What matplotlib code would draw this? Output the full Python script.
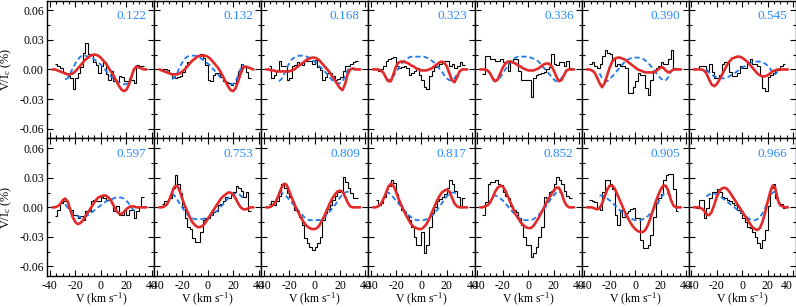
import matplotlib
matplotlib.use("Agg")
import matplotlib.pyplot as plt
from matplotlib.ticker import MultipleLocator, FormatStrFormatter

plt.rcParams['font.family'] = ['Liberation Serif', 'DejaVu Serif']
plt.rcParams['mathtext.fontset'] = 'custom'
plt.rcParams['mathtext.rm'] = 'Liberation Serif'
plt.rcParams['mathtext.it'] = 'Liberation Serif:italic'
plt.rcParams['axes.unicode_minus'] = False

phases = ['0.122', '0.132', '0.168', '0.323', '0.336', '0.390', '0.545',
          '0.597', '0.753', '0.809', '0.817', '0.852', '0.905', '0.966']

# velocity bin edges of the observed profiles (km/s)
v_edges = [-36, -34, -32, -30, -28, -26, -24, -22, -20, -18, -16, -14, -12, -10,
           -8, -6, -4, -2, 0, 2, 4, 6, 8, 10, 12, 14, 16, 18, 20, 22, 24, 26,
           28, 30, 32, 34]
# velocity grid of the model curves
v_red = [-38, -36, -34, -32, -30, -28, -26, -24, -22, -20, -18, -16, -14, -12,
         -10, -8, -6, -4, -2, 0, 2, 4, 6, 8, 10, 12, 14, 16, 18, 20, 22, 24,
         26, 28, 30, 32, 34, 36]
v_blue = [-28, -26, -24, -22, -20, -18, -16, -14, -12, -10, -8, -6, -4, -2, 0,
          2, 4, 6, 8, 10, 12, 14, 16, 18, 20, 22, 24, 26, 28]

# observed Stokes V/Ic (%)
obs_0122 = [0.006, 0.004, 0.001, -0.003, -0.005, -0.007, -0.009, -0.020, -0.009, -0.004,
            0.002, 0.017, 0.027, 0.016, 0.015, 0.008, 0.005, -0.004, 0.003, 0.008,
            -0.005, -0.011, -0.002, -0.012, -0.012, -0.007, -0.008, -0.012, -0.012, -0.009,
            -0.011, -0.014, 0.005, 0.003, 0.004]
obs_0132 = [0.000, 0.000, -0.001, -0.004, -0.008, -0.009, -0.008, -0.007, -0.003, 0.003,
            0.008, 0.009, 0.011, 0.013, 0.015, 0.016, 0.012, 0.005, -0.011, -0.012,
            -0.006, -0.004, -0.004, -0.008, -0.012, -0.013, -0.014, -0.016, -0.014, -0.010,
            -0.002, 0.006, 0.003, -0.003, -0.009]
obs_0168 = [0.003, -0.009, -0.006, -0.002, 0.009, 0.003, 0.003, -0.011, -0.009, 0.003,
            0.005, 0.008, 0.006, 0.005, 0.009, 0.009, 0.009, 0.006, 0.010, 0.002,
            -0.001, -0.011, -0.008, -0.004, -0.004, -0.007, -0.011, -0.010, -0.008, -0.002,
            0.003, 0.004, 0.006, 0.008, 0.009]
obs_0323 = [0.000, -0.002, 0.000, 0.003, 0.009, 0.011, 0.012, 0.013, 0.004, 0.001,
            0.002, 0.003, 0.001, -0.006, -0.004, -0.002, 0.001, -0.006, -0.011, -0.018,
            -0.020, -0.007, -0.002, 0.002, 0.003, 0.006, 0.008, 0.009, 0.009, 0.003,
            0.006, 0.001, 0.004, 0.008, 0.005]
obs_0336 = [-0.005, 0.014, 0.014, 0.011, 0.011, 0.009, 0.009, 0.011, 0.008, 0.008,
            -0.002, 0.009, 0.011, 0.011, -0.002, -0.011, -0.011, -0.011, -0.011, -0.028,
            -0.009, -0.006, -0.005, -0.004, -0.003, 0.000, 0.002, 0.016, 0.006, 0.005,
            0.008, 0.008, 0.003, 0.009, 0.001]
obs_0390 = [0.006, 0.008, 0.004, 0.001, 0.006, 0.014, 0.020, 0.017, 0.016, 0.011,
            0.004, 0.006, 0.004, 0.003, 0.001, -0.024, -0.024, -0.018, -0.012, -0.004,
            -0.006, -0.006, -0.019, -0.026, -0.011, -0.003, 0.001, 0.004, 0.008, 0.006,
            0.006, 0.011, 0.020, 0.001, 0.000]
obs_0545 = [0.000, 0.003, 0.004, 0.004, -0.002, 0.006, -0.003, -0.009, -0.009, -0.006,
            0.006, 0.008, 0.008, -0.003, -0.007, -0.007, -0.004, 0.003, 0.001, 0.001,
            0.008, 0.011, 0.006, 0.006, 0.003, -0.006, -0.019, -0.022, -0.008, -0.006,
            -0.004, -0.001, -0.001, 0.003, 0.006]
obs_0597 = [-0.009, -0.003, 0.004, 0.006, 0.006, -0.001, -0.003, -0.008, -0.008, -0.011,
            -0.009, -0.013, -0.004, -0.004, 0.006, 0.007, 0.006, 0.006, 0.011, 0.009,
            0.007, 0.007, 0.004, -0.004, 0.001, -0.008, -0.008, -0.003, -0.008, -0.003,
            -0.003, -0.011, -0.004, 0.000, 0.011]
obs_0753 = [0.003, 0.006, 0.006, 0.010, 0.020, 0.033, 0.024, 0.015, 0.000, -0.011,
            -0.020, -0.022, -0.031, -0.035, -0.035, -0.025, -0.013, -0.011, -0.011, -0.008,
            -0.005, -0.004, 0.002, 0.003, 0.006, 0.011, 0.010, 0.013, 0.016, 0.022,
            0.020, 0.017, 0.011, 0.016, -0.004]
obs_0809 = [0.003, 0.006, 0.002, 0.006, 0.012, 0.024, 0.020, 0.015, 0.011, 0.004,
            -0.003, -0.004, -0.010, -0.018, -0.031, -0.036, -0.040, -0.043, -0.040, -0.036,
            -0.030, -0.013, -0.006, -0.002, 0.002, 0.007, 0.012, 0.016, 0.017, 0.031,
            0.026, 0.020, 0.015, 0.009, 0.009]
obs_0817 = [0.007, 0.002, 0.004, 0.011, 0.019, 0.022, 0.028, 0.025, 0.014, 0.004,
            -0.003, -0.005, -0.009, -0.013, -0.020, -0.030, -0.038, -0.038, -0.025, -0.046,
            -0.038, -0.020, -0.006, 0.000, 0.006, 0.008, 0.011, 0.014, 0.020, 0.028,
            0.024, 0.017, 0.011, 0.000, 0.009]
obs_0852 = [-0.008, 0.005, 0.024, 0.026, 0.026, 0.028, 0.024, 0.023, 0.016, 0.012,
            0.009, 0.001, -0.003, -0.005, -0.011, -0.018, -0.030, -0.038, -0.038, -0.050,
            -0.046, -0.040, -0.030, -0.020, 0.011, 0.009, 0.016, 0.017, 0.024, 0.031,
            0.028, 0.024, 0.017, 0.012, 0.009]
obs_0905 = [0.007, 0.006, 0.005, -0.001, -0.003, 0.016, 0.028, 0.028, 0.024, 0.019,
            -0.008, -0.018, -0.003, -0.010, -0.006, -0.004, -0.002, -0.001, -0.011, -0.011,
            -0.033, -0.041, -0.041, -0.038, -0.028, -0.010, 0.004, 0.010, 0.014, 0.028,
            0.033, 0.034, 0.034, 0.019, -0.004]
obs_0966 = [-0.001, 0.007, 0.007, -0.011, -0.001, 0.009, 0.016, 0.016, 0.019, 0.016,
            0.011, 0.010, 0.007, 0.006, 0.004, 0.002, -0.003, -0.006, -0.011, -0.015,
            -0.020, -0.021, -0.025, -0.030, -0.036, -0.041, -0.033, -0.023, 0.001, 0.020,
            0.024, 0.010, 0.004, 0.003, -0.001]

# model 1 (red solid)
red_0122 = [0, 0, -0.001, -0.002, -0.003, -0.004, -0.005, -0.005, -0.004, -0.002,
            0.001, 0.004, 0.007, 0.010, 0.012, 0.014, 0.015, 0.015, 0.014, 0.012,
            0.009, 0.006, 0.002, -0.002, -0.006, -0.011, -0.016, -0.020, -0.022, -0.021,
            -0.016, -0.008, 0.000, 0.003, 0.002, 0.001, 0.000, 0.000]
red_0132 = [0, -0.001, -0.002, -0.003, -0.004, -0.005, -0.005, -0.005, -0.004, -0.002,
            0.000, 0.003, 0.006, 0.009, 0.011, 0.013, 0.014, 0.014, 0.014, 0.013,
            0.011, 0.008, 0.005, 0.002, -0.002, -0.007, -0.012, -0.017, -0.021, -0.022,
            -0.019, -0.012, -0.004, 0.002, 0.003, 0.002, 0.001, 0.0]
red_0168 = [0, 0, -0.001, -0.001, -0.002, -0.002, -0.002, -0.002, -0.002, -0.002,
            -0.001, 0.000, 0.002, 0.004, 0.006, 0.008, 0.010, 0.011, 0.012, 0.012,
            0.011, 0.009, 0.006, 0.003, 0.000, -0.003, -0.007, -0.011, -0.015, -0.019,
            -0.021, -0.015, -0.005, 0.000, 0.001, 0.000, 0, 0]
red_0323 = [0, 0, 0, -0.001, -0.003, -0.008, -0.012, -0.012, -0.005, 0.003,
            0.007, 0.008, 0.008, 0.007, 0.006, 0.004, 0.003, 0.001, 0.000, -0.001,
            -0.001, -0.001, 0.000, 0.001, 0.003, 0.005, 0.007, 0.008, 0.007, 0.003,
            -0.004, -0.011, -0.013, -0.008, -0.002, 0.000, 0, 0]
red_0336 = [0, 0, 0, -0.001, -0.004, -0.009, -0.012, -0.010, -0.004, 0.002,
            0.006, 0.008, 0.008, 0.007, 0.006, 0.004, 0.003, 0.001, 0.000, -0.001,
            -0.001, -0.001, 0.000, 0.001, 0.003, 0.005, 0.006, 0.006, 0.004, -0.001,
            -0.007, -0.012, -0.011, -0.006, -0.001, 0.000, 0, 0]
red_0390 = [0, 0, -0.001, -0.003, -0.008, -0.014, -0.018, -0.014, -0.006, 0.002,
            0.008, 0.011, 0.012, 0.012, 0.011, 0.010, 0.008, 0.006, 0.004, 0.002,
            0.000, -0.001, -0.002, -0.003, -0.003, -0.003, -0.003, -0.002, 0.000, 0.002,
            0.002, -0.001, -0.003, -0.002, 0.000, 0.000, 0, 0]
red_0545 = [0, 0, 0, 0, -0.001, -0.004, -0.010, -0.015, -0.017, -0.015,
            -0.011, -0.006, -0.001, 0.004, 0.008, 0.011, 0.012, 0.013, 0.013, 0.012,
            0.010, 0.008, 0.005, 0.002, -0.001, -0.004, -0.006, -0.007, -0.007, -0.006,
            -0.004, -0.002, -0.001, 0.000, 0.000, 0.000, 0, 0]
red_0597 = [0, 0, 0.001, 0.003, 0.007, 0.009, 0.006, -0.002, -0.010, -0.015,
            -0.017, -0.016, -0.013, -0.009, -0.005, -0.001, 0.003, 0.007, 0.010, 0.011,
            0.012, 0.012, 0.010, 0.007, 0.002, -0.003, -0.006, -0.007, -0.005, -0.002,
            0.000, 0.001, 0.001, 0.000, 0, 0, 0, 0]
red_0753 = [0, 0, 0.001, 0.003, 0.008, 0.015, 0.021, 0.022, 0.017, 0.009,
            0.002, -0.004, -0.010, -0.015, -0.018, -0.020, -0.020, -0.019, -0.016, -0.012,
            -0.008, -0.004, 0.000, 0.004, 0.008, 0.011, 0.013, 0.015, 0.015, 0.013,
            0.009, 0.004, 0.000, -0.002, -0.002, -0.001, 0.000, 0]
red_0809 = [0, 0, 0.001, 0.003, 0.007, 0.013, 0.020, 0.024, 0.023, 0.017,
            0.010, 0.004, -0.002, -0.007, -0.012, -0.016, -0.019, -0.021, -0.022, -0.022,
            -0.021, -0.018, -0.013, -0.008, -0.002, 0.004, 0.009, 0.013, 0.016, 0.017,
            0.016, 0.011, 0.005, 0.001, 0.000, 0, 0, 0]
red_0817 = [0, 0, 0.001, 0.003, 0.008, 0.014, 0.021, 0.024, 0.022, 0.016,
            0.009, 0.003, -0.003, -0.008, -0.013, -0.017, -0.020, -0.021, -0.022, -0.022,
            -0.020, -0.017, -0.012, -0.006, 0.000, 0.006, 0.011, 0.015, 0.017, 0.018,
            0.016, 0.010, 0.004, 0.001, 0.000, 0, 0, 0]
red_0852 = [0, 0, 0.001, 0.002, 0.005, 0.010, 0.016, 0.020, 0.022, 0.021,
            0.017, 0.011, 0.005, -0.001, -0.007, -0.011, -0.015, -0.018, -0.020, -0.021,
            -0.021, -0.019, -0.015, -0.011, -0.006, -0.001, 0.004, 0.009, 0.013, 0.017,
            0.020, 0.020, 0.015, 0.007, 0.002, 0.000, 0, 0]
red_0905 = [0, 0, 0.000, -0.001, -0.002, -0.001, 0.004, 0.011, 0.018, 0.022,
            0.022, 0.019, 0.013, 0.007, 0.001, -0.005, -0.010, -0.015, -0.019, -0.022,
            -0.024, -0.025, -0.025, -0.023, -0.018, -0.011, -0.003, 0.005, 0.012, 0.018,
            0.022, 0.022, 0.017, 0.008, 0.002, 0.000, 0, 0]
red_0966 = [0, 0, 0.000, -0.001, -0.003, -0.007, -0.008, -0.005, 0.002, 0.010,
            0.016, 0.019, 0.020, 0.019, 0.016, 0.012, 0.008, 0.004, 0.000, -0.004,
            -0.008, -0.012, -0.016, -0.020, -0.022, -0.023, -0.021, -0.015, -0.006, 0.005,
            0.015, 0.022, 0.020, 0.008, 0.002, 0.001, 0, 0]

# model 2 (blue dashed)
blue_0122 = [-0.010, -0.009, -0.004, 0.001, 0.006, 0.010, 0.013, 0.014, 0.014, 0.013,
             0.012, 0.011, 0.009, 0.007, 0.005, 0.002, -0.001, -0.004, -0.007, -0.009,
             -0.011, -0.013, -0.014, -0.015, -0.015, -0.013, -0.008, -0.001, 0.004]
blue_0132 = [-0.010, -0.008, -0.004, 0.002, 0.007, 0.011, 0.013, 0.014, 0.014, 0.014,
             0.013, 0.012, 0.010, 0.008, 0.006, 0.004, 0.001, -0.002, -0.005, -0.008,
             -0.010, -0.012, -0.014, -0.015, -0.015, -0.012, -0.006, 0.001, 0.005]
blue_0168 = [-0.012, -0.010, -0.005, 0.001, 0.006, 0.010, 0.012, 0.013, 0.014, 0.014,
             0.014, 0.013, 0.012, 0.010, 0.008, 0.006, 0.003, 0.001, -0.002, -0.005,
             -0.008, -0.011, -0.013, -0.014, -0.014, -0.012, -0.007, -0.001, 0.004]
blue_0323 = [-0.010, -0.011, -0.010, -0.007, -0.003, 0.001, 0.005, 0.008, 0.010, 0.012,
             0.013, 0.013, 0.013, 0.013, 0.013, 0.013, 0.012, 0.011, 0.009, 0.007,
             0.004, 0.001, -0.002, -0.006, -0.009, -0.011, -0.011, -0.009, -0.005]
blue_0336 = [-0.011, -0.012, -0.011, -0.008, -0.004, 0.000, 0.004, 0.008, 0.010, 0.012,
             0.013, 0.013, 0.013, 0.013, 0.013, 0.012, 0.011, 0.010, 0.008, 0.005,
             0.002, -0.001, -0.004, -0.007, -0.010, -0.012, -0.012, -0.009, -0.004]
blue_0390 = [-0.004, -0.009, -0.011, -0.012, -0.010, -0.007, -0.004, -0.001, 0.002, 0.005,
             0.008, 0.010, 0.011, 0.012, 0.012, 0.012, 0.012, 0.011, 0.009, 0.007,
             0.004, 0.001, -0.003, -0.006, -0.009, -0.011, -0.011, -0.008, -0.003]
blue_0545 = [0.000, -0.003, -0.005, -0.007, -0.008, -0.009, -0.009, -0.009, -0.008, -0.007,
             -0.005, -0.004, -0.002, 0.000, 0.002, 0.003, 0.005, 0.006, 0.007, 0.008,
             0.008, 0.008, 0.007, 0.006, 0.004, 0.001, -0.003, -0.005, -0.002]
blue_0597 = [0.003, 0.000, -0.003, -0.006, -0.008, -0.009, -0.010, -0.010, -0.009, -0.008,
             -0.006, -0.004, -0.002, 0.000, 0.002, 0.004, 0.006, 0.007, 0.008, 0.009,
             0.010, 0.010, 0.010, 0.009, 0.007, 0.004, 0.000, -0.003, -0.002]
blue_0753 = [0.014, 0.012, 0.008, 0.004, 0.000, -0.004, -0.007, -0.010, -0.011, -0.012,
             -0.012, -0.012, -0.012, -0.011, -0.010, -0.009, -0.007, -0.005, -0.003, 0.000,
             0.003, 0.006, 0.009, 0.012, 0.013, 0.014, 0.014, 0.012, 0.009]
blue_0809 = [0.016, 0.015, 0.013, 0.011, 0.008, 0.005, 0.002, -0.001, -0.004, -0.007,
             -0.010, -0.012, -0.013, -0.013, -0.013, -0.013, -0.013, -0.012, -0.010, -0.007,
             -0.004, -0.001, 0.002, 0.006, 0.010, 0.013, 0.015, 0.016, 0.014]
blue_0817 = [0.016, 0.015, 0.013, 0.010, 0.007, 0.004, 0.001, -0.002, -0.005, -0.008,
             -0.010, -0.012, -0.013, -0.013, -0.013, -0.013, -0.012, -0.011, -0.009, -0.006,
             -0.003, 0.000, 0.004, 0.008, 0.011, 0.014, 0.015, 0.015, 0.013]
blue_0852 = [0.012, 0.012, 0.011, 0.009, 0.007, 0.004, 0.001, -0.002, -0.005, -0.008,
             -0.010, -0.012, -0.013, -0.013, -0.013, -0.013, -0.012, -0.010, -0.008, -0.005,
             -0.002, 0.001, 0.005, 0.009, 0.012, 0.015, 0.016, 0.015, 0.011]
blue_0905 = [0.012, 0.012, 0.011, 0.009, 0.007, 0.005, 0.002, 0.000, -0.003, -0.005,
             -0.008, -0.010, -0.011, -0.012, -0.013, -0.013, -0.013, -0.012, -0.011, -0.009,
             -0.006, -0.003, 0.001, 0.005, 0.009, 0.013, 0.015, 0.014, 0.010]
blue_0966 = [0.011, 0.013, 0.014, 0.014, 0.013, 0.012, 0.010, 0.008, 0.006, 0.004,
             0.002, 0.000, -0.002, -0.004, -0.006, -0.008, -0.010, -0.012, -0.013, -0.013,
             -0.012, -0.010, -0.006, -0.001, 0.005, 0.011, 0.015, 0.016, 0.012]

observed = [obs_0122, obs_0132, obs_0168, obs_0323, obs_0336, obs_0390, obs_0545,
            obs_0597, obs_0753, obs_0809, obs_0817, obs_0852, obs_0905, obs_0966]
model_red = [red_0122, red_0132, red_0168, red_0323, red_0336, red_0390, red_0545,
             red_0597, red_0753, red_0809, red_0817, red_0852, red_0905, red_0966]
model_blue = [blue_0122, blue_0132, blue_0168, blue_0323, blue_0336, blue_0390, blue_0545,
              blue_0597, blue_0753, blue_0809, blue_0817, blue_0852, blue_0905, blue_0966]

RED = '#e22a2a'
BLUE = '#1f78e6'
LABEL_BLUE = '#2a8cff'

fig, axes = plt.subplots(2, 7, figsize=(7.96, 3.07), dpi=100, sharex=True, sharey=True)
fig.subplots_adjust(left=47.3 / 796, right=795.5 / 796, bottom=1 - 276.3 / 307,
                    top=1 - 0.5 / 307, wspace=0, hspace=0)

for i, ax in enumerate(axes.flat):
    ax.stairs(observed[i], v_edges, baseline=None, color='black', lw=0.8, zorder=2)
    ax.plot(v_blue, model_blue[i], color=BLUE, lw=1.3, dashes=(2.8, 1.7), zorder=3)
    ax.plot(v_red, model_red[i], color=RED, lw=1.9, zorder=4, solid_capstyle='round')
    ax.text(0.925, 0.885, phases[i], transform=ax.transAxes, ha='right', va='center',
            color=LABEL_BLUE, fontsize=9.5)
    ax.set_xlim(-42, 42)
    ax.set_ylim(-0.07, 0.07)
    ax.xaxis.set_major_locator(MultipleLocator(20))
    ax.xaxis.set_minor_locator(MultipleLocator(5))
    ax.yaxis.set_major_locator(MultipleLocator(0.03))
    ax.yaxis.set_minor_locator(MultipleLocator(0.015))
    ax.yaxis.set_major_formatter(FormatStrFormatter('%.2f'))
    ax.tick_params(which='both', direction='in', top=True, right=True,
                   labelsize=8.5, pad=2.5, width=0.8)
    ax.tick_params(which='major', length=4)
    ax.tick_params(which='minor', length=2)
    for s in ax.spines.values():
        s.set_linewidth(1.0)

for ax in axes[1, :]:
    ax.set_xlabel('V (km s$^{-1}$)', fontsize=8.5)
    ax.xaxis.set_label_coords(0.5, -0.108)
    ax.tick_params(axis='x', pad=3)
for ax in axes[:, 0]:
    ax.set_ylabel('V/I$_\\mathrm{c}$ (%)', fontsize=8.8)
    ax.yaxis.set_label_coords(-0.31, 0.5)

# keep the last "40" inside the figure
fig.canvas.draw()
for lbl in axes[1, 6].get_xticklabels():
    if lbl.get_text() == '40':
        lbl.set_horizontalalignment('right')

fig.savefig('out.png', dpi=100)
